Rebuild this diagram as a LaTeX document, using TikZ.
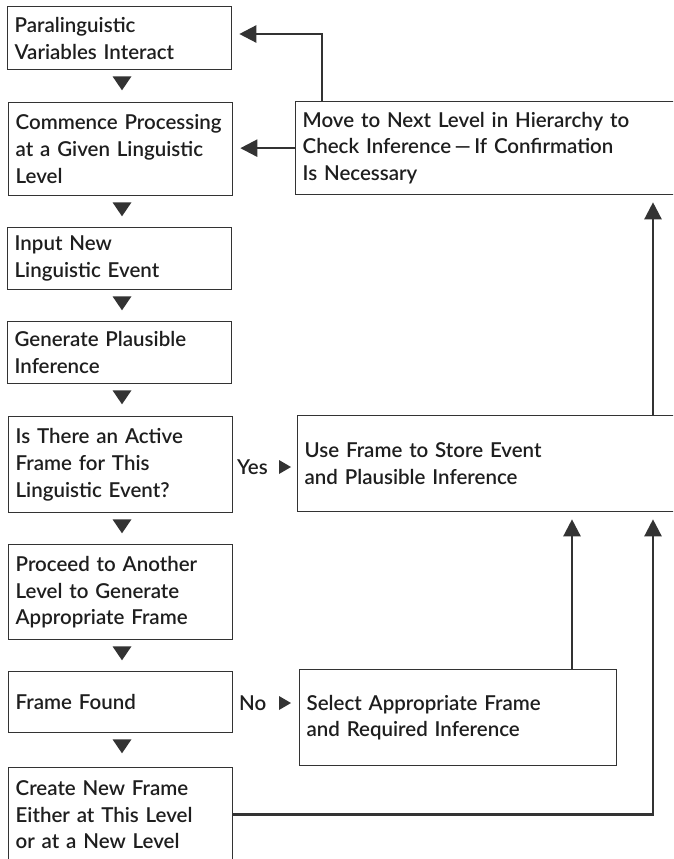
\documentclass[tikz,border=0pt]{standalone}
\usepackage{fontspec}
\setmainfont{Lato}[BoldFont={Lato Semibold}]
\usetikzlibrary{arrows.meta,calc}
\definecolor{textc}{HTML}{1E1E1E}
\definecolor{linec}{HTML}{333333}
\begin{document}
\begin{tikzpicture}[x=1pt,y=-1pt,
  box/.style={draw=linec, line width=1.3pt, anchor=north west, inner xsep=7pt, inner ysep=0pt,
    align=left, text=textc, font=\fontsize{20.5}{26.7}\selectfont\bfseries, text width=#1},
  box/.default=210pt,
  conn/.style={draw=linec, line width=2.4pt, -{Triangle[length=17pt,width=17pt]}, shorten >=7pt},
  tridown/.style={fill=linec},
  lbl/.style={anchor=west, text=textc, font=\fontsize{20.5}{24}\selectfont\bfseries, inner sep=0pt}]
\useasboundingbox (0,0) rectangle (673,859);
\clip (0,0) rectangle (673,859);
% left column
\node[box, minimum height=63pt] (b1) at (7,6) {Paralinguistic\\Variables Interact};
\node[box, minimum height=93pt] (b2) at (8,102) {Commence Processing\\at a Given Linguistic\\Level};
\node[box, minimum height=62pt] (inp) at (7,227) {Input New\\Linguistic Event};
\node[box, minimum height=62pt] (gen) at (7,321) {Generate Plausible\\Inference};
\node[box, minimum height=96pt] (act) at (8,416) {Is There an Active\\Frame for This\\Linguistic Event?};
\node[box, minimum height=95pt] (proc) at (8,544) {Proceed to Another\\Level to Generate\\Appropriate Frame};
\node[box, minimum height=61pt] (found) at (8,671) {Frame Found};
\node[box, minimum height=94pt] (create) at (8,767) {Create New Frame\\Either at This Level\\or at a New Level};
% right column
\node[box=480pt, minimum height=93pt] (move) at (295,101) {Move to Next Level in Hierarchy to\\Check Inference\,---\,If Confirmation\\Is Necessary};
\node[box=480pt, minimum height=96pt] (use) at (297,415) {Use Frame to Store Event\\and Plausible Inference};
\node[box=303pt, minimum height=96pt] (select) at (299,669) {Select Appropriate Frame\\and Required Inference};
% down triangles
\foreach \n in {b1,b2,inp,gen,act,proc,found}{
  \fill[tridown] (\n.south -| 122,0) ++(-9.5,6) -- ++(19,0) -- ++(-9.5,14) -- cycle;
}
% yes / no
\node[lbl] (yes) at (237,467) {Yes};
\fill[tridown] (279,460) -- (291,467) -- (279,474) -- cycle;
\node[lbl] (no) at (239,703) {No};
\fill[tridown] (279,696) -- (291,703) -- (279,710) -- cycle;
% connectors
\coordinate (rx) at (653,0);
\coordinate (sx) at (572,0);
\coordinate (mx) at (322,0);
\coordinate (top1) at (0,34);
\draw[conn] (move.north -| mx) |- ($(b1.east |- top1)$);
\draw[conn] (move.west) -- (move.west -| b2.east);
\draw[conn] (use.north -| rx) -- (move.south -| rx);
\draw[conn] (select.north -| sx) -- (use.south -| sx);
\draw[conn] (create.east) -| (rx |- use.south);
\end{tikzpicture}
\end{document}
